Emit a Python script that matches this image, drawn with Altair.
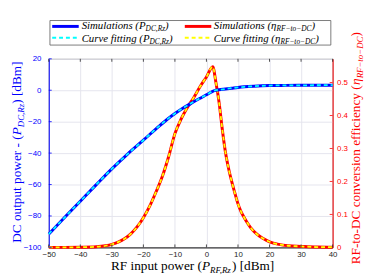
import altair as alt
import pandas as pd

# ---------------- data ----------------
rf_pdc = [-50, -45, -40, -35, -30, -25, -20, -15, -12.5, -10, -7.5, -5, -2.5, 0, 2.5, 4, 6, 8, 10, 12, 15,
          20, 25, 30, 40]
pdc_sim = [-91.5, -81, -70.6, -60.2, -50, -40.6, -31.8, -22.8, -18.6, -14.8, -11.4, -8.5, -5.6, -2.9,
           -0.2, 0.3, 0.8, 1.3, 1.8, 2.2, 2.6, 3.0, 3.1, 3.15, 3.2]
pdc_fit = [-91.5, -81, -70.6, -60.2, -50, -40.6, -31.8, -22.8, -18.6, -14.8, -11.4, -8.5, -5.6, -2.9,
           -0.2, 0.3, 0.8, 1.3, 1.8, 2.2, 2.6, 3.0, 3.1, 3.15, 3.2]

rf_eta = [-50, -45, -40, -35, -32, -30, -28, -26, -24, -22, -20, -18, -16, -14, -12, -10, -8, -6, -4,
          -2, 0, 2, 3, 4, 5, 6, 7, 8, 9, 10, 11, 12, 13, 14, 16, 18, 20, 23, 26, 30, 35, 40]
eta_sim = [0, 0, 0.0005, 0.002, 0.005, 0.009, 0.016, 0.026, 0.041, 0.062, 0.09, 0.125, 0.168, 0.215,
           0.275, 0.345, 0.39, 0.425, 0.455, 0.488, 0.517, 0.548, 0.5, 0.44, 0.36, 0.29, 0.24, 0.2,
           0.165, 0.132, 0.108, 0.09, 0.074, 0.06, 0.04, 0.027, 0.017, 0.009, 0.005, 0.003, 0.001, 0.0005]
eta_fit = list(eta_sim)

x_ticks = [-50, -40, -30, -20, -10, 0, 10, 20, 30, 40]
yl_ticks = [-100, -80, -60, -40, -20, 0, 20]
yr_ticks = [0, 0.1, 0.2, 0.3, 0.4, 0.5]

legend_rows = [
    [("Simulations (", 11, True, 0), ("P", 11, True, 0), ("DC,Rz", 7.5, True, 2), (")", 11, True, 0)],
    [("Curve fitting (", 11, True, 0), ("P", 11, True, 0), ("DC,Rz", 7.5, True, 2), (")", 11, True, 0)],
    [("Simulations (", 11, True, 0), ("η", 11, True, 0), ("RF−to−DC", 7.5, True, 2), (")", 11, True, 0)],
    [("Curve fitting (", 11, True, 0), ("η", 11, True, 0), ("RF−to−DC", 7.5, True, 2), (")", 11, True, 0)],
]
TS, SS = 13.5, 9
xtitle = [("RF input power (", TS, False, 0), ("P", TS, True, 0), ("RF,Rz", SS, True, 3), (") [dBm]", TS, False, 0)]
yltitle = [("DC output power - (", TS, False, 0), ("P", TS, True, 0), ("DC,Rz", SS, True, 3), (") [dBm]", TS, False, 0)]
yrtitle = [("RF-to-DC conversion efficiency (", TS, False, 0), ("η", TS, True, 0), ("RF−to−DC", SS, True, 2.5), (")", TS, False, 0)]

BLUE, CYAN, RED, YELLOW = "#0000ff", "#00ffff", "#ff0000", "#ffff00"
SERIF = "Liberation Serif"
SANS = "Liberation Sans"
GRID = "#e4e4ee"
W, H = 289, 192

# Times-like advance widths (per 1000 em) for text layout of the rich titles
TR = {' ': 250, '(': 333, ')': 333, '[': 333, ']': 333, '-': 333, ',': 250, '−': 564,
      'B': 667, 'C': 667, 'D': 722, 'F': 556, 'P': 556, 'R': 667, 'a': 444, 'b': 500, 'c': 444,
      'd': 500, 'e': 444, 'f': 333, 'g': 500, 'i': 278, 'l': 278, 'm': 778, 'n': 500, 'o': 500,
      'p': 500, 'r': 333, 's': 389, 't': 278, 'u': 500, 'v': 500, 'w': 722, 'y': 500, 'z': 444, 'η': 500}
TI = {' ': 250, '(': 333, ')': 333, ',': 250, '−': 675, 'S': 500, 'C': 667, 'D': 722, 'F': 611,
      'P': 611, 'R': 611, 'a': 500, 'e': 444, 'f': 278, 'g': 500, 'i': 278, 'l': 278, 'm': 722,
      'n': 500, 'o': 500, 'r': 389, 's': 389, 't': 278, 'u': 500, 'v': 444, 'z': 389, 'η': 500}


def tw(s, size, italic):
    tab = TI if italic else TR
    return sum(tab.get(c, 500) for c in s) * size / 1000.0


dummy = pd.DataFrame({"k": [0]})


def rich(pieces, x, y, angle=0, color="black"):
    out, off = [], 0.0
    for txt, size, italic, dy in pieces:
        kw = dict(text=txt, font=SERIF, fontSize=size, fontStyle="italic" if italic else "normal",
                  align="left", baseline="alphabetic", dx=off, dy=dy, color=color)
        if angle:
            kw["angle"] = angle
        out.append(alt.Chart(dummy).mark_text(**kw).encode(x=alt.value(x), y=alt.value(y)))
        off += tw(txt, size, italic)
    return out


def total(pieces):
    return sum(tw(t, s, i) for t, s, i, _ in pieces)


# ---------------- data frames ----------------
df_p = pd.DataFrame({"x": rf_pdc, "sim": pdc_sim, "fit": pdc_fit})
df_e = pd.DataFrame({"x": rf_eta, "sim": eta_sim, "fit": eta_fit})
df_xt = pd.DataFrame({"x": x_ticks})
df_ylt = pd.DataFrame({"v": yl_ticks})
df_yrt = pd.DataFrame({"v": yr_ticks})

xscale = alt.Scale(domain=[-50, 40], nice=False, zero=False)
xaxis = alt.Axis(values=x_ticks, title=None, grid=True, ticks=False, labelFont=SANS,
                 labelFontSize=8, labelColor="#262626", labelPadding=3,
                 domainColor="#262626", gridColor=GRID, labelFlush=False)
xenc = alt.X("x:Q", scale=xscale, axis=xaxis)

yl_scale = alt.Scale(domain=[-100, 20], nice=False, zero=False)
yl_axis = alt.Axis(values=yl_ticks, title=None, orient="left", grid=True, ticks=False,
                   labelFont=SANS, labelFontSize=8, labelColor=BLUE, labelPadding=8,
                   domainColor=BLUE, gridColor=GRID, labelFlush=False)
yr_scale = alt.Scale(domain=[0, 0.572], nice=False, zero=False)
yr_axis = alt.Axis(values=yr_ticks, title=None, orient="right", grid=False, ticks=False,
                   labelFont=SANS, labelFontSize=8, labelColor=RED, labelPadding=4,
                   domainColor=RED, labelFlush=False,
                   labelExpr="datum.value == 0 ? '0' : format(datum.value, '.1f')")

blue = alt.Chart(df_p).mark_line(color=BLUE, strokeWidth=3, interpolate="monotone").encode(
    x=xenc, y=alt.Y("sim:Q", scale=yl_scale, axis=yl_axis))
cyan = alt.Chart(df_p).mark_line(color=CYAN, strokeWidth=1.8, strokeDash=[4, 3],
                                 interpolate="monotone").encode(
    x=xenc, y=alt.Y("fit:Q", scale=yl_scale, axis=yl_axis))
lt_ticks = alt.Chart(df_ylt).mark_rule(color=BLUE, strokeWidth=0.8).encode(
    y=alt.Y("v:Q", scale=yl_scale, axis=yl_axis), x=alt.value(0), x2=alt.value(3))
xt_bot = alt.Chart(df_xt).mark_rule(color="#262626", strokeWidth=0.8).encode(
    x=xenc, y=alt.value(H), y2=alt.value(H - 3))
xt_top = alt.Chart(df_xt).mark_rule(color="#262626", strokeWidth=0.8).encode(
    x=xenc, y=alt.value(0), y2=alt.value(3))
left = alt.layer(lt_ticks, xt_bot, xt_top, blue, cyan)

red = alt.Chart(df_e).mark_line(color=RED, strokeWidth=3, interpolate="monotone").encode(
    x=xenc, y=alt.Y("sim:Q", scale=yr_scale, axis=yr_axis))
yellow = alt.Chart(df_e).mark_line(color=YELLOW, strokeWidth=1.8, strokeDash=[4, 3],
                                   interpolate="monotone").encode(
    x=xenc, y=alt.Y("fit:Q", scale=yr_scale, axis=yr_axis))
rt_ticks = alt.Chart(df_yrt).mark_rule(color=RED, strokeWidth=0.8).encode(
    y=alt.Y("v:Q", scale=yr_scale, axis=yr_axis), x=alt.value(W), x2=alt.value(W - 3))
right = alt.layer(rt_ticks, red, yellow)

data_layer = alt.layer(right, left).resolve_scale(y="independent")

# ---------------- legend ----------------
ann = []
ann.append(alt.Chart(dummy).mark_rect(fill="white", stroke="#5a5a5a", strokeWidth=0.8).encode(
    x=alt.value(1.2), x2=alt.value(287.2), y=alt.value(-39), y2=alt.value(-14)))
line_y = [-33, -21.5]
text_y = [-30, -17.3]
cols = [(3.5, 30.5, 33.5), (138.5, 165.5, 168)]
styles = [(BLUE, None), (CYAN, [4, 3]), (RED, None), (YELLOW, [4, 3])]
for idx, pieces in enumerate(legend_rows):
    c, r = idx // 2, idx % 2
    x0, x1, xt = cols[c]
    color, dash = styles[idx]
    kw = dict(color=color, strokeWidth=3 if dash is None else 2)
    if dash:
        kw["strokeDash"] = dash
    ann.append(alt.Chart(dummy).mark_rule(**kw).encode(
        x=alt.value(x0), x2=alt.value(x1), y=alt.value(line_y[r])))
    ann += rich(pieces, xt, text_y[r])

# ---------------- axis titles ----------------
ann += rich(xtitle, W / 2 + 2 - total(xtitle) / 2, 215.2)
ann += rich(yltitle, -28, H / 2 - 1 + total(yltitle) / 2, angle=270, color=BLUE)
ann += rich(yrtitle, 317, H / 2 - 5 + total(yrtitle) / 2, angle=270, color=RED)

chart = alt.layer(data_layer, *ann).properties(
    width=W, height=H,
    padding={"left": 41.5, "top": 49.3, "right": 34, "bottom": 28},
    autosize=alt.AutoSizeParams(type="none"),
).configure_view(stroke="#7a7a7a", strokeWidth=1)

chart.save("out.html", embed_options={"renderer": "svg", "actions": False})
